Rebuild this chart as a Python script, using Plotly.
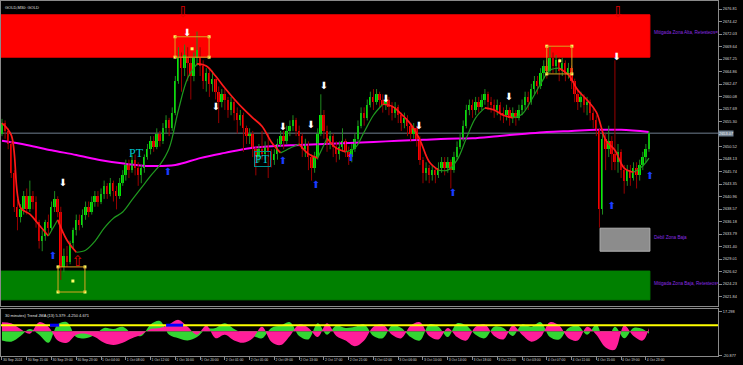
import plotly.graph_objects as go
from plotly.subplots import make_subplots

# ---------------- data ----------------
first_open = 2653.0
close = [
2655.0, 2653.5, 2651.0, 2645.5, 2639.0, 2637.0, 2638.5, 2641.0, 2638.5, 2641.0,
2640.0, 2636.0, 2632.5, 2633.5, 2636.0, 2635.0, 2639.0, 2640.5, 2638.0, 2627.5,
2629.5, 2628.5, 2632.0, 2634.5, 2636.5, 2635.5, 2637.5, 2639.0, 2638.0, 2640.0,
2641.0, 2640.0, 2641.5, 2643.0, 2641.5, 2643.5, 2642.0, 2641.0, 2643.5, 2645.0,
2647.0, 2646.0, 2648.0, 2646.5, 2645.0, 2646.5, 2648.5, 2650.0, 2651.5, 2650.5,
2653.0, 2651.5, 2654.0, 2655.5, 2654.0, 2657.0, 2663.0, 2667.5, 2665.5, 2668.0,
2666.5, 2664.0, 2667.5, 2669.0, 2666.0, 2663.0, 2664.5, 2662.5, 2663.5, 2661.0,
2659.0, 2660.5, 2659.5, 2657.5, 2659.0, 2657.0, 2655.5, 2656.5, 2654.0, 2652.5,
2653.0, 2650.0, 2648.5, 2650.0, 2649.0, 2650.5, 2649.5, 2648.0, 2649.0, 2651.0,
2652.5, 2651.5, 2653.5, 2654.5, 2655.5, 2653.5, 2652.5, 2650.0, 2651.0, 2648.5,
2646.5, 2648.5, 2653.0, 2656.5, 2653.5, 2651.0, 2652.5, 2650.5, 2649.0, 2650.5,
2651.5, 2649.5, 2648.5, 2650.0, 2652.0, 2654.5, 2657.0, 2656.0, 2658.5, 2660.0,
2659.0, 2660.5, 2659.5, 2658.5, 2659.5, 2658.0, 2657.0, 2658.0, 2656.5, 2655.0,
2656.0, 2654.5, 2653.0, 2654.0, 2652.0, 2648.0, 2645.5, 2646.5, 2645.0, 2646.0,
2645.0, 2646.5, 2647.5, 2646.5, 2647.5, 2646.0, 2648.5, 2650.5, 2652.0, 2654.5,
2657.5, 2658.5, 2657.5, 2659.0, 2658.0, 2659.5, 2660.5, 2659.0, 2658.5, 2657.5,
2658.5, 2657.0, 2656.5, 2657.5, 2656.0, 2657.0, 2656.0, 2657.5, 2658.5, 2660.0,
2659.0, 2661.5, 2663.0, 2662.0, 2664.5, 2666.0, 2665.0, 2667.5, 2666.0, 2667.0,
2665.0, 2666.5, 2664.5, 2665.5, 2663.0, 2660.5, 2659.0, 2660.0, 2658.5, 2659.0,
2657.0, 2655.5, 2653.5, 2638.5, 2652.0, 2650.0, 2651.5, 2649.0, 2647.5, 2649.5,
2646.0, 2644.0, 2646.0, 2644.5, 2646.5, 2645.0, 2647.0, 2648.5, 2650.0, 2653.07,
]
high = [
2655.8, 2655.5, 2654.0, 2651.5, 2646.0, 2640.5, 2639.5, 2642.0, 2642.5, 2644.0,
2642.0, 2641.0, 2636.5, 2634.5, 2636.5, 2637.5, 2640.0, 2642.0, 2641.0, 2639.0,
2631.0, 2631.5, 2632.5, 2635.0, 2637.5, 2637.5, 2638.5, 2640.0, 2640.0, 2641.0,
2642.0, 2642.0, 2642.5, 2644.0, 2643.5, 2644.5, 2644.0, 2643.0, 2644.5, 2646.0,
2648.0, 2648.0, 2649.0, 2649.0, 2647.5, 2647.0, 2649.0, 2651.0, 2652.5, 2652.5,
2654.0, 2653.5, 2655.0, 2656.5, 2656.0, 2658.0, 2664.0, 2669.5, 2668.5, 2670.0,
2669.5, 2667.5, 2668.5, 2672.5, 2669.5, 2667.0, 2665.5, 2665.5, 2665.0, 2663.5,
2662.0, 2661.5, 2661.5, 2660.0, 2660.0, 2659.5, 2658.0, 2657.5, 2657.0, 2654.5,
2654.0, 2653.5, 2650.5, 2651.0, 2653.5, 2651.5, 2653.0, 2650.0, 2650.0, 2652.0,
2653.5, 2653.5, 2654.5, 2655.5, 2656.5, 2656.0, 2654.5, 2653.0, 2652.0, 2651.5,
2649.0, 2649.5, 2654.0, 2660.5, 2657.5, 2654.5, 2653.5, 2653.0, 2651.5, 2651.5,
2654.0, 2652.0, 2650.5, 2651.0, 2653.0, 2655.5, 2658.0, 2658.0, 2659.5, 2661.0,
2661.5, 2661.5, 2661.0, 2660.5, 2660.5, 2660.0, 2659.0, 2659.0, 2658.5, 2657.0,
2657.0, 2656.5, 2655.0, 2655.0, 2654.5, 2652.5, 2648.5, 2647.5, 2647.0, 2647.0,
2646.5, 2647.5, 2648.5, 2648.5, 2648.5, 2648.0, 2649.5, 2651.5, 2653.0, 2655.5,
2658.5, 2659.5, 2659.5, 2660.0, 2660.0, 2660.5, 2661.5, 2661.0, 2660.0, 2659.5,
2659.5, 2659.0, 2658.0, 2658.5, 2658.0, 2658.0, 2657.5, 2658.5, 2659.5, 2661.0,
2661.0, 2662.5, 2664.0, 2664.0, 2665.5, 2667.0, 2667.0, 2669.5, 2668.5, 2668.0,
2667.5, 2667.5, 2667.0, 2666.5, 2666.0, 2663.5, 2661.5, 2661.0, 2660.5, 2660.0,
2659.5, 2658.0, 2656.5, 2654.0, 2653.5, 2653.0, 2654.5, 2652.5, 2667.0, 2651.0,
2650.0, 2647.0, 2647.0, 2647.0, 2647.5, 2647.5, 2648.0, 2649.5, 2651.0, 2653.5,
]
low = [
2652.5, 2652.0, 2650.0, 2644.5, 2638.0, 2634.5, 2636.0, 2637.5, 2637.5, 2638.0,
2638.5, 2635.0, 2631.0, 2630.5, 2632.5, 2633.5, 2634.5, 2638.0, 2637.0, 2625.0,
2626.5, 2627.5, 2628.0, 2631.0, 2633.5, 2634.5, 2635.0, 2636.5, 2637.0, 2637.5,
2639.0, 2639.0, 2639.5, 2640.5, 2640.5, 2641.0, 2640.0, 2638.5, 2640.5, 2643.0,
2644.0, 2644.5, 2645.5, 2645.0, 2643.0, 2643.5, 2645.5, 2648.0, 2649.0, 2649.5,
2650.0, 2650.5, 2651.0, 2653.0, 2652.5, 2653.5, 2656.5, 2662.5, 2661.0, 2664.0,
2663.0, 2659.5, 2663.0, 2666.0, 2664.0, 2661.5, 2661.0, 2660.0, 2661.0, 2659.5,
2655.0, 2658.0, 2657.5, 2656.0, 2656.5, 2655.5, 2653.0, 2654.5, 2649.5, 2651.0,
2651.0, 2648.5, 2645.0, 2647.5, 2648.0, 2648.0, 2644.5, 2646.5, 2647.0, 2648.0,
2650.5, 2650.0, 2651.0, 2652.5, 2653.5, 2652.5, 2650.5, 2648.5, 2648.5, 2646.0,
2644.0, 2645.5, 2648.0, 2652.5, 2652.0, 2649.5, 2650.0, 2648.5, 2647.5, 2648.0,
2649.5, 2648.5, 2647.0, 2647.5, 2649.5, 2651.5, 2654.0, 2654.5, 2655.5, 2658.0,
2657.5, 2658.5, 2658.0, 2657.0, 2657.5, 2656.5, 2655.5, 2656.0, 2655.0, 2653.5,
2654.0, 2652.5, 2651.5, 2652.0, 2650.5, 2647.0, 2643.5, 2644.0, 2643.5, 2644.0,
2643.5, 2644.5, 2645.5, 2645.0, 2645.5, 2642.5, 2645.5, 2648.0, 2650.0, 2651.5,
2654.0, 2656.5, 2656.0, 2656.5, 2657.0, 2657.5, 2658.5, 2657.5, 2657.0, 2656.0,
2656.5, 2655.5, 2655.0, 2655.5, 2654.5, 2655.0, 2654.5, 2655.5, 2656.5, 2657.5,
2657.5, 2658.5, 2660.5, 2660.5, 2661.5, 2663.5, 2663.5, 2664.5, 2664.5, 2664.5,
2663.0, 2664.0, 2663.0, 2663.5, 2661.5, 2659.0, 2657.5, 2658.0, 2657.0, 2656.5,
2655.5, 2654.0, 2652.5, 2635.0, 2637.5, 2646.0, 2648.5, 2646.0, 2646.0, 2645.5,
2644.5, 2641.5, 2643.0, 2643.0, 2644.0, 2642.5, 2644.0, 2646.0, 2647.5, 2649.5,
]

# moving averages
mag_idx = list(range(0, 201, 8)) + [209]
mag_val = [2651.6, 2650.8, 2649.8, 2648.9, 2647.9, 2647.2, 2646.8, 2647.0, 2648.3, 2649.3,
           2650.2, 2650.6, 2650.8, 2651.0, 2651.2, 2651.4, 2651.6, 2651.8, 2652.0, 2652.1,
           2652.5, 2652.9, 2653.3, 2653.5, 2653.7, 2653.7, 2653.3]

ma_idx = list(range(0, 208, 3)) + [209]
ma_val = [2655.0, 2652.7, 2638.8, 2637.6, 2635.5, 2633.4, 2636.5, 2632.6, 2630.3, 2630.7,
          2632.4, 2634.9, 2636.8, 2638.0, 2640.3, 2642.6, 2644.9, 2647.0, 2650.2, 2657.5,
          2663.6, 2666.3, 2665.9, 2664.0, 2661.7, 2659.6, 2657.7, 2656.0, 2654.4, 2651.4,
          2649.3, 2650.2, 2651.0, 2649.1, 2648.3, 2652.1, 2650.2, 2649.5, 2650.2, 2653.3,
          2656.5, 2658.6, 2658.2, 2656.7, 2654.8, 2651.8, 2647.6, 2646.0, 2646.0, 2647.9,
          2652.1, 2656.0, 2657.9, 2657.5, 2656.5, 2656.0, 2656.7, 2659.4, 2662.5, 2665.1,
          2665.5, 2664.2, 2661.3, 2659.4, 2657.1, 2651.8, 2649.8, 2646.4, 2645.6, 2646.8,
          2648.3]

# oscillator (sub window)
osc_idx = list(range(0, 208, 3)) + [209]
osc_pink = [8, 7, 2, -2, 8, 4, -8, -10, -3, -2,
            -5, -10, -12, -10, -6, -3, 2, 3, 6, 10,
            4, -3, 5, -6, -3, -8, -10, -6, 4, -9,
            -12, -4, 6, 3, -5, 7, -4, -8, -13, -8,
            4, 6, -3, -6, 5, 8, -4, -7, 3, -5,
            -8, 4, 6, -4, -7, 5, -3, -9, -5, 8,
            5, -6, -8, 4, -3, -14, -16, 5, -4, -8, 3]
osc_green = [-8, -9, -4, 2, -3, -10, 6, 8, -5, -6,
             -3, 3, 2, 4, -2, -4, 6, 9, -3, -6,
             -8, -5, 2, 3, 7, 2, -2, -4, -6, 3,
             5, 8, -4, -7, 7, -3, 5, 3, 4, 6,
             -4, -6, 5, 3, -5, -8, 6, 4, -5, 7,
             5, -3, -6, 4, 3, -4, 6, 4, 8, -5,
             -7, 3, 5, -3, 6, -12, 4, -6, 3, 2, -2]
osc_level = 5.379
blue_from = [15.5, 53.0]
blue_to = [18.5, 58.5]

# tick labels
x_tick_idx = list(range(0, 209, 8))
x_tick_txt = ["30 Sep 2024", "30 Sep 15:00", "30 Sep 19:00", "30 Sep 23:00", "1 Oct 04:00",
              "1 Oct 08:00", "1 Oct 12:00", "1 Oct 16:00", "1 Oct 20:00", "2 Oct 01:00",
              "2 Oct 05:00", "2 Oct 09:00", "2 Oct 13:00", "2 Oct 17:00", "2 Oct 21:00",
              "3 Oct 02:00", "3 Oct 06:00", "3 Oct 10:00", "3 Oct 14:00", "3 Oct 18:00",
              "3 Oct 22:00", "4 Oct 03:00", "4 Oct 07:00", "4 Oct 11:00", "4 Oct 15:00",
              "4 Oct 19:00", "4 Oct 23:00"]
y_tick_txt = ["2676.81", "2674.42", "2672.03", "2669.64", "2667.25", "2664.86", "2662.47",
              "2660.08", "2657.69", "2655.30", "2650.52", "2648.13", "2645.74", "2643.35",
              "2640.96", "2638.57", "2636.18", "2633.79", "2631.40", "2629.01", "2626.62",
              "2624.23", "2621.84"]
sub_tick_txt = ["17.298", "-20.877"]
current_price = 2653.07

# zones (x from/to in bar index, price from/to)
zone_x0 = [-0.4, 193.2, -0.4]
zone_x1 = [209.3, 209.3, 209.3]
zone_y0 = [2667.6, 2630.5, 2621.2]
zone_y1 = [2675.7, 2634.9, 2626.7]
zone_col = ["#ff0000", "#8c8c8c", "#008000"]
zone_txt = ["Mitigada Zona Alta, Retesteos=1", "Débil Zona Baja", "Mitigada Zona Baja, Retesteos=1"]
zone_txt_y = [2672.2, 2633.0, 2624.2]

# signal boxes
box_x0 = [55.9, 18.1, 176.0]
box_x1 = [66.9, 26.8, 184.1]
box_y0 = [2667.6, 2622.7, 2664.4]
box_y1 = [2671.5, 2627.5, 2669.7]
box_cx = [61.4, 22.9, 180.2]
box_cy = [2669.2, 2624.8, 2666.9]

# arrows
white_x = [19.7, 59.8, 69.1, 90.8, 99.8, 104.0, 124.0, 134.7, 163.8, 198.6]
white_y = [2643.5, 2672.2, 2657.9, 2654.2, 2654.6, 2661.9, 2659.6, 2654.4, 2659.8, 2667.6]
blue_x = [16.5, 53.6, 90.8, 101.4, 112.7, 145.7, 197.0, 209.3]
blue_y = [2629.4, 2645.5, 2647.6, 2643.0, 2648.3, 2641.6, 2639.1, 2644.7]
hdn_x = [58.5, 199.0]
hdn_y = [2676.0, 2676.0]
hup_x = [24.5]
hup_y = [2628.4]
pt_x = [43.6, 84.0]
pt_y = [2649.3, 2648.1]

# ---------------- figure ----------------
n = len(close)
idx = list(range(n))
opens = [first_open] + close[:-1]

fig = make_subplots(rows=2, cols=1, shared_xaxes=True, vertical_spacing=0.01)

shapes = []
for x0, x1, y0, y1, c in zip(zone_x0, zone_x1, zone_y0, zone_y1, zone_col):
    shapes.append(dict(type="rect", xref="x", yref="y", x0=x0, x1=x1, y0=y0, y1=y1,
                       fillcolor=c, line=dict(width=1, color=c if c != "#8c8c8c" else "#b0b0b0"),
                       layer="below"))
# current price line
shapes.append(dict(type="line", xref="x", yref="y", x0=-1, x1=232, y0=current_price, y1=current_price,
                   line=dict(color="#6f7f8f", width=1), layer="below"))

# magenta MA
fig.add_trace(go.Scatter(x=mag_idx, y=mag_val, mode="lines", line=dict(color="#ff00ff", width=2, shape="spline"),
                         hoverinfo="skip", showlegend=False), row=1, col=1)

# wicks
wx_up, wy_up, wx_dn, wy_dn = [], [], [], []
for i in idx:
    o, c = opens[i], close[i]
    h = max(high[i], o, c)
    l = min(low[i], o, c)
    if c >= o:
        wx_up += [i, i, None]; wy_up += [l, h, None]
    else:
        wx_dn += [i, i, None]; wy_dn += [l, h, None]
fig.add_trace(go.Scatter(x=wx_up, y=wy_up, mode="lines", line=dict(color="#1f8a1f", width=1),
                         hoverinfo="skip", showlegend=False), row=1, col=1)
fig.add_trace(go.Scatter(x=wx_dn, y=wy_dn, mode="lines", line=dict(color="#9a0000", width=1),
                         hoverinfo="skip", showlegend=False), row=1, col=1)

# bodies
bases, heights, cols = [], [], []
for i in idx:
    o, c = opens[i], close[i]
    bases.append(min(o, c))
    heights.append(max(abs(c - o), 0.15))
    cols.append("#00f000" if c >= o else "#ff0000")
fig.add_trace(go.Bar(x=idx, y=heights, base=bases, width=0.62,
                     marker=dict(color=cols, line=dict(width=0)),
                     hoverinfo="skip", showlegend=False), row=1, col=1)

# red/green MA, colored by direction
runs = []
cur = None
for j in range(len(ma_idx) - 1):
    col = "#ff1a1a" if ma_val[j + 1] < ma_val[j] else "#1f9a1f"
    if cur is None or cur["c"] != col:
        cur = {"c": col, "x": [ma_idx[j]], "y": [ma_val[j]]}
        runs.append(cur)
    cur["x"].append(ma_idx[j + 1]); cur["y"].append(ma_val[j + 1])
for r in runs:
    w = 1.7 if r["c"] == "#ff1a1a" else 1.2
    fig.add_trace(go.Scatter(x=r["x"], y=r["y"], mode="lines", line=dict(color=r["c"], width=w, shape="spline"),
                             hoverinfo="skip", showlegend=False), row=1, col=1)

# signal boxes
for x0, x1, y0, y1 in zip(box_x0, box_x1, box_y0, box_y1):
    shapes.append(dict(type="rect", xref="x", yref="y", x0=x0, x1=x1, y0=y0, y1=y1,
                       line=dict(color="#d9a520", width=1), fillcolor="rgba(0,0,0,0)"))
cx, cy = [], []
for x0, x1, y0, y1 in zip(box_x0, box_x1, box_y0, box_y1):
    cx += [x0, x1, x0, x1]; cy += [y0, y0, y1, y1]
fig.add_trace(go.Scatter(x=cx + box_cx, y=cy + box_cy, mode="markers",
                         marker=dict(color="#ffff66", size=3, symbol="square"),
                         hoverinfo="skip", showlegend=False), row=1, col=1)

# arrows
fig.add_trace(go.Scatter(x=white_x, y=white_y, mode="text", text=["⬇"] * len(white_x),
                         textfont=dict(family="DejaVu Sans", size=10, color="#ffffff"),
                         hoverinfo="skip", showlegend=False, cliponaxis=False), row=1, col=1)
fig.add_trace(go.Scatter(x=blue_x, y=blue_y, mode="text", text=["⬆"] * len(blue_x),
                         textfont=dict(family="DejaVu Sans", size=10, color="#1a3cff"),
                         hoverinfo="skip", showlegend=False, cliponaxis=False), row=1, col=1)
fig.add_trace(go.Scatter(x=hdn_x, y=hdn_y, mode="text", text=["⇩"] * len(hdn_x),
                         textfont=dict(family="DejaVu Sans", size=15, color="#e00000"),
                         hoverinfo="skip", showlegend=False, cliponaxis=False), row=1, col=1)
fig.add_trace(go.Scatter(x=hup_x, y=hup_y, mode="text", text=["⇧"] * len(hup_x),
                         textfont=dict(family="DejaVu Sans", size=15, color="#e00000"),
                         hoverinfo="skip", showlegend=False, cliponaxis=False), row=1, col=1)

# zone texts (clipped at axis)
fig.add_trace(go.Scatter(x=[210.6] * 3, y=zone_txt_y, mode="text", text=zone_txt, textposition="middle right",
                         textfont=dict(family="Liberation Sans", size=4.6, color="#8a2be2"),
                         hoverinfo="skip", showlegend=False, cliponaxis=True), row=1, col=1)

# oscillator
fig.add_trace(go.Scatter(x=osc_idx, y=osc_green, mode="lines", fill="tozeroy",
                         line=dict(width=0, shape="spline", color="#33d633"), fillcolor="#33d633",
                         hoverinfo="skip", showlegend=False), row=2, col=1)
fig.add_trace(go.Scatter(x=osc_idx, y=osc_pink, mode="lines", fill="tozeroy",
                         line=dict(width=0, shape="spline", color="#ff1e9a"), fillcolor="#ff1e9a",
                         hoverinfo="skip", showlegend=False), row=2, col=1)
shapes.append(dict(type="line", xref="x2", yref="y2", x0=-1, x1=232, y0=osc_level, y1=osc_level,
                   line=dict(color="#ffff00", width=2)))
for a, b in zip(blue_from, blue_to):
    shapes.append(dict(type="line", xref="x2", yref="y2", x0=a, x1=b, y0=osc_level, y1=osc_level,
                       line=dict(color="#0000ff", width=3)))

small_font = dict(family="Liberation Sans", size=4.0, color="#e0e0e0")
annotations = []
for (x, y, boxed) in zip(pt_x, pt_y, [False, True]):
    annotations.append(dict(x=x, y=y, xref="x", yref="y", text="PT", showarrow=False,
                            font=dict(family="Liberation Serif", size=12, color="#00c8d0"),
                            bordercolor="#009090" if boxed else "rgba(0,0,0,0)", borderwidth=1, borderpad=0))
annotations.append(dict(x=0, y=1, xref="paper", yref="paper", xanchor="left", yanchor="top",
                        xshift=2, yshift=-2, text="GOLD,M30: GOLD", showarrow=False, font=small_font))
annotations.append(dict(x=0, y=1, xref="paper", yref="y2 domain", xanchor="left", yanchor="top",
                        xshift=2, yshift=-2, text="30 minutes) Trend JMA (13) 5.379 -4.250 4.671", showarrow=False,
                        font=small_font))
annotations.append(dict(x=1, y=current_price, xref="paper", yref="y", xanchor="left", yanchor="middle",
                        xshift=0, text=f"{current_price:.2f}", showarrow=False, bgcolor="#6f7f8f",
                        borderpad=0, font=dict(family="Liberation Sans", size=3.9, color="#ffffff")))

xr = [-0.32, 231.3]
y_font = dict(family="Liberation Sans", size=3.9, color="#d8d8d8")
x_font = dict(family="Liberation Sans", size=3.4, color="#d8d8d8")
fig.update_layout(
    width=743, height=365,
    margin=dict(l=1, r=25, t=1, b=9, pad=0, autoexpand=False),
    paper_bgcolor="#000000", plot_bgcolor="#000000",
    showlegend=False, bargap=0,
    shapes=shapes, annotations=annotations,
    xaxis=dict(range=xr, showgrid=False, zeroline=False, showticklabels=False, ticks="",
               showline=True, mirror=True, linecolor="#8a8a8a", linewidth=1, automargin=False),
    xaxis2=dict(range=xr, showgrid=False, zeroline=False, tickmode="array",
                tickvals=x_tick_idx, ticktext=x_tick_txt, ticks="outside", ticklen=3,
                tickcolor="#8a8a8a", tickfont=x_font, ticklabelposition="outside right",
                tickangle=0, automargin=False,
                showline=True, mirror=True, linecolor="#8a8a8a", linewidth=1),
    yaxis=dict(domain=[0.1408, 1.0], range=[2620.02, 2678.34], side="right",
               tickmode="array", tickvals=[float(t) for t in y_tick_txt], ticktext=y_tick_txt,
               ticks="outside", ticklen=3, tickcolor="#8a8a8a", tickfont=y_font,
               showgrid=False, zeroline=False, showline=True, mirror=True, automargin=False,
               linecolor="#8a8a8a", linewidth=1),
    yaxis2=dict(domain=[0.0, 0.1324], range=[-21.5, 19.5], side="right",
                tickmode="array", tickvals=[float(t) for t in sub_tick_txt], ticktext=sub_tick_txt,
                ticks="outside", ticklen=3, tickcolor="#8a8a8a", tickfont=y_font,
                showgrid=False, zeroline=False, showline=True, mirror=True, automargin=False,
                linecolor="#8a8a8a", linewidth=1),
)

fig.write_html("out.html", config={"displayModeBar": False})
